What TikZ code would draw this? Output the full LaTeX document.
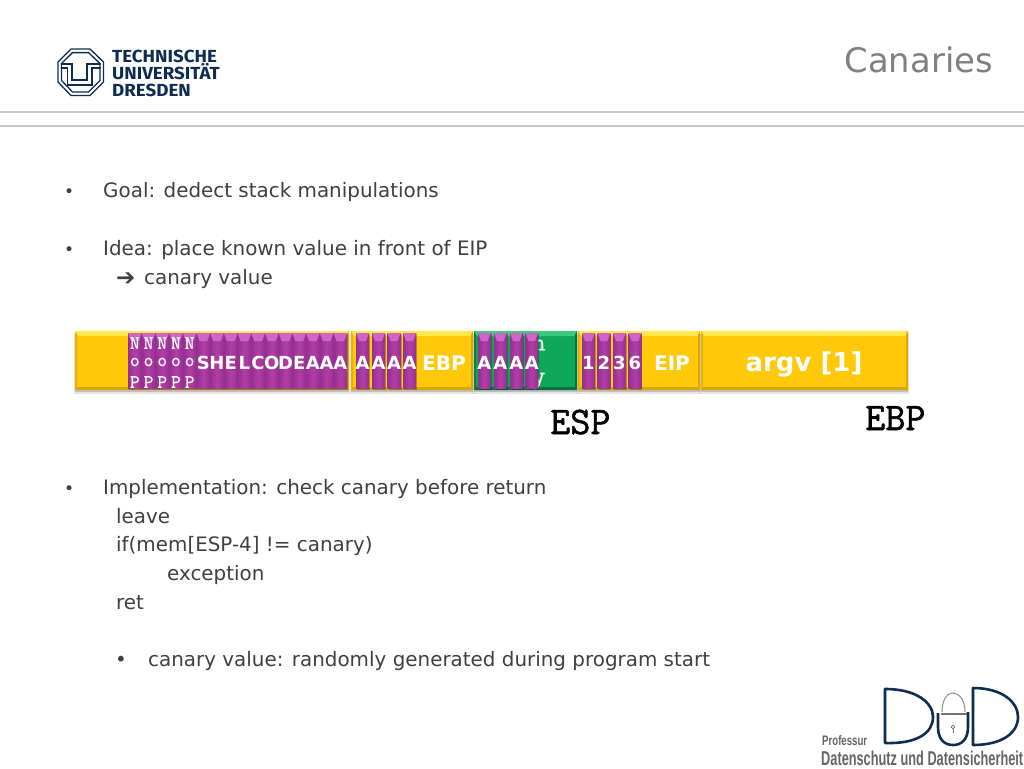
\documentclass[tikz,border=0pt]{standalone}
\usepackage{graphicx}
\usepackage{fontspec}
\setmainfont{DejaVu Sans}
\setmonofont[FakeBold=1.4]{Latin Modern Mono}
\newfontfamily\smallmono[FakeBold=.7]{Latin Modern Mono}
\newfontfamily\logof{Fira Sans}
\newfontfamily\dudf{Liberation Sans}
\definecolor{gelb}{HTML}{FFC90A}
\definecolor{gelbhell}{HTML}{FFE84A}
\definecolor{gelbdunkel}{HTML}{DDA600}
\definecolor{gruen}{HTML}{0FA858}
\definecolor{gruenhell}{HTML}{3CCB7C}
\definecolor{gruendunkel}{HTML}{0A7040}
\definecolor{lila}{HTML}{B23DA9}
\definecolor{lilahell}{HTML}{CF66C7}
\definecolor{liladunkel}{HTML}{95308F}
\definecolor{navy}{HTML}{0F2D52}
\definecolor{txt}{HTML}{404040}
\tikzset{
  body/.style={anchor=base west,inner sep=0pt,text=txt,font=\fontsize{19.9}{21}\selectfont},
  white label/.style={anchor=center,inner sep=0pt,text=white,font=\fontsize{20}{21}\selectfont\bfseries},
  cell letter/.style={anchor=center,inner sep=0pt,text=white,font=\fontsize{18}{19}\selectfont\bfseries},
  nop letter/.style={anchor=center,inner sep=0pt,text=white,font=\fontsize{19}{20}\selectfont\smallmono},
  reg/.style={anchor=base west,inner sep=0pt,text=black,font=\fontsize{39}{40}\selectfont\ttfamily},
  logo text/.style={anchor=base west,inner sep=0pt,text=navy,font=\fontsize{17.5}{18}\selectfont\logof\bfseries},
  dud text/.style={anchor=base west,inner sep=0pt,text=black!60,font=\dudf\bfseries},
  dud line/.style={draw=navy,line width=2.6pt,line join=round}
}
% #1 x0, #2 x1, #3 base, #4 light, #5 dark
\newcommand{\barseg}[5]{%
  \fill[black,opacity=.10] (#1-1,334) rectangle (#2+1,394);
  \fill[black,opacity=.16] (#1,334) rectangle (#2,392);
  \fill[#3] (#1,331) rectangle (#2,390);
  \fill[#4] (#1,331) -- (#2,331) -- (#2-3,336) -- (#1+3,336) -- cycle;
  \fill[#5] (#1,390) -- (#2,390) -- (#2-2,387) -- (#1+2,387) -- cycle;
  \fill[#5] (#2,331) -- (#2,390) -- (#2-2,387) -- (#2-2,335) -- cycle;
  \fill[#5!70!#3] (#1,331) -- (#1,390) -- (#1+2,387) -- (#1+2,335) -- cycle;
}
% #1 x0, #2 width
\newcommand{\purplecell}[2]{%
  \fill[black,opacity=.25] (#1+1,334) rectangle (#1+#2+1,390);
  \shade[left color=liladunkel,right color=liladunkel,middle color=lila] (#1,333) rectangle (#1+#2,388.5);
  \fill[lilahell] (#1,333) -- (#1+#2,333) -- (#1+#2-3,341) -- (#1+3,341) -- cycle;
}
\begin{document}
\begin{tikzpicture}[x=1pt,y=-1pt]
\useasboundingbox (0,0) rectangle (1024,768);
\fill[white] (0,0) rectangle (1024,768);

% header rules
\draw[black!22,line width=1.6pt] (0,112) -- (1024,112);
\draw[black!22,line width=1.6pt] (0,126) -- (1024,126);

% TU logo
\begin{scope}
\draw[navy,line width=1.3pt,line join=miter] (71,49) -- (90,49) -- (103.5,62) -- (103.5,82) -- (90,95.5) -- (71,95.5) -- (58,82) -- (58,62) -- cycle;
\path[clip] (72.2,52) -- (88.8,52) -- (100.6,63.2) -- (100.6,80.8) -- (88.8,92.6) -- (72.2,92.6) -- (60.9,80.8) -- (60.9,63.2) -- cycle;
\draw[navy,line width=2.6pt] (72.2,52) -- (88.8,52) -- (100.6,63.2) -- (100.6,80.8) -- (88.8,92.6) -- (72.2,92.6) -- (60.9,80.8) -- (60.9,63.2) -- cycle;
\draw[navy,line width=1.2pt] (58,64) -- (72,64) -- (72,80) -- (87,80) -- (87,64) -- (104,64);
\draw[navy,line width=1.2pt] (58,68) -- (67.5,68) -- (67.5,85) -- (92,85) -- (92,68) -- (104,68);
\end{scope}
\node[logo text] (tu1) at (112,63) {\scalebox{1.07}[1]{TECHNISCHE}};
\node[logo text] (tu2) at (112,79.5) {\scalebox{1.07}[1]{UNIVERSITÄT}};
\node[logo text] (tu3) at (112,96) {\scalebox{1.07}[1]{DRESDEN}};

% title
\node[anchor=base east,inner sep=0pt,text=black!50,font=\fontsize{33.8}{34}\selectfont] (title) at (993,72) {Canaries};

% upper bullets
\node[body] (b1m) at (64,197) {\fontsize{17}{18}\selectfont•};
\node[body] (b1) at (103,197) {Goal: dedect stack manipulations};
\node[body] (b2m) at (64,255) {\fontsize{17}{18}\selectfont•};
\node[body] (b2) at (103,255) {Idea: place known value in front of EIP};
\node[body] (b3a) at (116,285) {\fontsize{23}{24}\selectfont\bfseries ➔};
\node[body] (b3) at (144,284) {canary value};

% bar
\barseg{75}{349}{gelb}{gelbhell}{gelbdunkel}
\barseg{351}{473}{gelb}{gelbhell}{gelbdunkel}
\barseg{578}{700}{gelb}{gelbhell}{gelbdunkel}
\barseg{701}{908}{gelb}{gelbhell}{gelbdunkel}
\barseg{474}{577}{gruen}{gruenhell}{gruendunkel}

\node[nop letter,font=\fontsize{25}{26}\selectfont\smallmono] (canN) at (539,345) {n};
\node[nop letter,font=\fontsize{25}{26}\selectfont\smallmono] (canY) at (539,381) {y};

% purple cells
\foreach \i in {0,...,15} {\purplecell{128+13.7*\i}{13.7}}
\foreach \x in {356,372,387.5,403} {\purplecell{\x}{13}}
\foreach \x in {478,494,510,525.5} {\purplecell{\x}{12.5}}
\foreach \x in {582,597.5,613,628.5} {\purplecell{\x}{12.8}}

% NOP letters
\foreach \i/\nm in {0/a,1/b,2/c,3/d,4/e} {
  \node[nop letter] (n\nm) at (134.8+13.7*\i,343) {N};
  \node[nop letter] (o\nm) at (134.8+13.7*\i,362) {o};
  \node[nop letter] (p\nm) at (134.8+13.7*\i,382) {P};
}
% SHELLCODE letters
\foreach \i/\l in {5/S,6/H,7/E,8/L,9/C,10/O,11/D,12/E,13/A,14/A,15/A} {
  \node[cell letter] (s\i) at (134.8+13.7*\i,363) {\l};
}
\foreach \x in {362.5,378.5,394,409.5} {\node[cell letter] (x\x) at (\x,363) {A};}
\foreach \x in {484.3,500.3,516.3,531.8} {\node[cell letter] (y\x) at (\x,363) {A};}
\foreach \x/\l in {588.4/1,603.9/2,619.4/3,634.9/6} {\node[cell letter] (z\x) at (\x,363) {\l};}

\node[white label] (ebp) at (444,363.5) {EBP};
\node[white label] (eip) at (672,363) {EIP};
\node[white label,font=\fontsize{26}{27}\selectfont\bfseries] (argv) at (804,364) {argv [1]};

% registers
\node[reg] (esp) at (550,434) {ESP};
\node[reg] (ebpr) at (865,430) {EBP};

% lower bullets
\node[body] (c1m) at (64,494) {\fontsize{17}{18}\selectfont•};
\node[body] (c1) at (103,494) {Implementation: check canary before return};
\node[body] (c2) at (116,523) {leave};
\node[body] (c3) at (116,551) {if(mem[ESP-4] != canary)};
\node[body] (c4) at (167,580) {exception};
\node[body] (c5) at (116,609) {ret};
\node[body] (c6m) at (115,666) {•};
\node[body] (c6) at (148,666) {canary value: randomly generated during program start};

% DuD logo
\draw[dud line] (885,689) .. controls (917,689) and (933,703) .. (933,717) .. controls (933,733) and (917,744) .. (885,743) -- cycle;
\draw[dud line] (973,688) .. controls (1002,688) and (1018,702) .. (1018,717) .. controls (1018,733) and (1002,745) .. (973,745) -- cycle;
\draw[dud line] (938,713) -- (938,727) .. controls (938,740) and (945,745) .. (953,745) .. controls (961,745) and (968,740) .. (968,727) -- (968,712);
\draw[black!45,line width=1pt] (942,712) .. controls (942,700) and (947,693) .. (953,693) .. controls (959,693) and (965,700) .. (965,712);
\draw[black!55,line width=1.4pt] (941,714) -- (967,714);
\draw[black!55,line width=.7pt] (953,727) circle (1.8);
\draw[black!55,line width=.7pt] (953,729) -- (953,733);
\node[dud text,font=\dudf\bfseries] (prof) at (822,745) {\resizebox{45pt}{10pt}{Professur}};
\node[dud text,font=\dudf\bfseries] (dsds) at (821,765) {\resizebox{202pt}{14.5pt}{Datenschutz und Datensicherheit}};
\end{tikzpicture}
\end{document}
